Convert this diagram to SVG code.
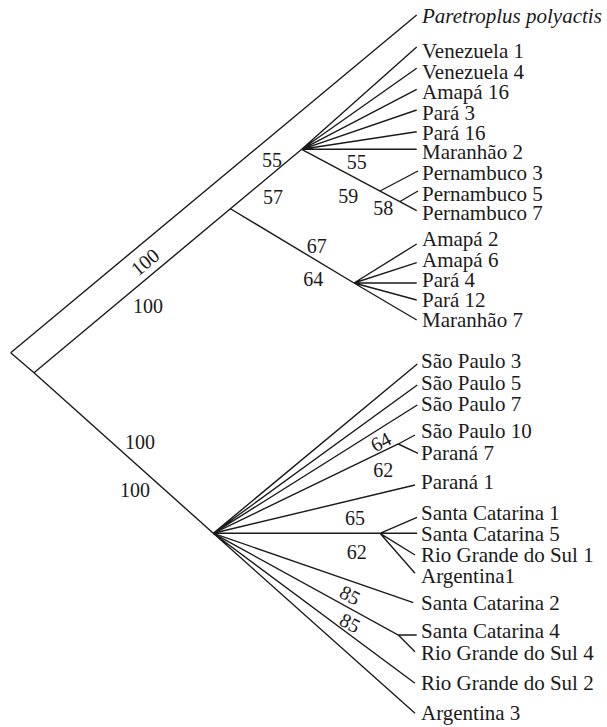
<svg xmlns="http://www.w3.org/2000/svg" width="607" height="727" viewBox="0 0 607 727">
<style>
.e{stroke:#1a1a1a;stroke-width:1.4;fill:none;stroke-linecap:butt}
.t{font-family:"Liberation Serif","Times New Roman",serif;font-size:21px;fill:#1a1a1a}
.i{font-style:italic}
.n{font-family:"Liberation Serif","Times New Roman",serif;font-size:20px;fill:#1a1a1a;text-anchor:middle}
</style>
<rect width="607" height="727" fill="#fff"/>
<g id="connectors" class="e">
<path d="M10.7,352.7 L416.7,15"/>
<path d="M10.7,352.7 L34,372.7"/>
<path d="M34,372.7 L301.7,149.3"/>
<path d="M34,372.7 L213.3,533.3"/>
<path d="M301.7,149.3 L416.7,47 M301.7,149.3 L416.7,68.3 M301.7,149.3 L416.7,89.3 M301.7,149.3 L416.7,110 M301.7,149.3 L416.7,131.7 M301.7,149.3 L416.7,149.3"/>
<path d="M301.7,149.3 L416.7,210.7 M380,191 L418,171 M400,201.5 L418,191"/>
<path d="M230,208.5 L354,283"/>
<path d="M354,283 L416.7,244 M354,283 L416.7,262.7 M354,283 L416.7,283 M354,283 L416.7,300 M354,283 L416.7,320"/>
<path d="M213.3,533.3 L417.3,364 M213.3,533.3 L417.3,385 M213.3,533.3 L417.3,405"/>
<path d="M213.3,533.3 L398.3,444 L415,435 M398.3,444 L418,453.3"/>
<path d="M213.3,533.3 L415,485"/>
<path d="M213.3,533.3 L417,533.3 M380,533.3 L417,517.3 M380,533.3 L415,555 M380,533.3 L415,573.3"/>
<path d="M213.3,533.3 L413.3,602.7"/>
<path d="M213.3,533.3 L398.3,635 L416.7,635 M398.3,635 L415,651.7"/>
<path d="M213.3,533.3 L415,683.3 M213.3,533.3 L415,713.3"/>
</g>
<g id="support" class="n" font-family="Liberation Serif, Times New Roman, serif">
<text transform="translate(145,262) rotate(-39.7)" y="7">100</text>
<text x="148" y="313">100</text>
<text x="272" y="167">55</text>
<text x="273" y="204">57</text>
<text x="356.7" y="168.7">55</text>
<text x="348.3" y="203">59</text>
<text x="383.3" y="215">58</text>
<text x="316.7" y="253">67</text>
<text x="313.3" y="286.3">64</text>
<text x="140" y="448.7">100</text>
<text x="135" y="497">100</text>
<text transform="translate(380.7,441.7) rotate(-28)" y="7">64</text>
<text x="383.3" y="477">62</text>
<text x="355" y="525.3">65</text>
<text x="356.7" y="558.7">62</text>
<text transform="translate(350,595) rotate(28)" y="7">85</text>
<text transform="translate(350,622.7) rotate(28)" y="7">85</text>
</g>
<g id="outgroup" class="t"><text class="i" x="422" y="22.7">Paretroplus polyactis</text></g>
<g id="venezuela1" class="t"><text x="422" y="57.7">Venezuela 1</text></g>
<g id="venezuela4" class="t"><text x="422" y="78.7">Venezuela 4</text></g>
<g id="amapa16" class="t"><text x="422" y="99.3">Amapá 16</text></g>
<g id="para3" class="t"><text x="422" y="120">Pará 3</text></g>
<g id="para16" class="t"><text x="422" y="140">Pará 16</text></g>
<g id="maranhao2" class="t"><text x="422" y="158.5">Maranhão 2</text></g>
<g id="pernambuco3" class="t"><text x="422" y="180">Pernambuco 3</text></g>
<g id="pernambuco5" class="t"><text x="422" y="201">Pernambuco 5</text></g>
<g id="pernambuco7" class="t"><text x="422" y="220">Pernambuco 7</text></g>
<g id="amapa2" class="t"><text x="422" y="246">Amapá 2</text></g>
<g id="amapa6" class="t"><text x="422" y="266.7">Amapá 6</text></g>
<g id="para4" class="t"><text x="422" y="286.7">Pará 4</text></g>
<g id="para12" class="t"><text x="422" y="307.3">Pará 12</text></g>
<g id="maranhao7" class="t"><text x="422" y="327.3">Maranhão 7</text></g>
<g id="saopaulo3" class="t"><text x="421" y="368.3">São Paulo 3</text></g>
<g id="saopaulo5" class="t"><text x="421" y="390">São Paulo 5</text></g>
<g id="saopaulo7" class="t"><text x="421" y="411">São Paulo 7</text></g>
<g id="saopaulo10" class="t"><text x="421" y="438.3">São Paulo 10</text></g>
<g id="parana7" class="t"><text x="421" y="460">Paraná 7</text></g>
<g id="parana1" class="t"><text x="421" y="489.3">Paraná 1</text></g>
<g id="santacatarina1" class="t"><text x="421" y="520">Santa Catarina 1</text></g>
<g id="santacatarina5" class="t"><text x="421" y="540.7">Santa Catarina 5</text></g>
<g id="riograndedosul1" class="t"><text x="421" y="561.7">Rio Grande do Sul 1</text></g>
<g id="argentina1" class="t"><text x="421" y="583.3">Argentina1</text></g>
<g id="santacatarina2" class="t"><text x="421" y="610">Santa Catarina 2</text></g>
<g id="santacatarina4" class="t"><text x="421" y="638.3">Santa Catarina 4</text></g>
<g id="riograndedosul4" class="t"><text x="421" y="660">Rio Grande do Sul 4</text></g>
<g id="riograndedosul2" class="t"><text x="421" y="690">Rio Grande do Sul 2</text></g>
<g id="argentina3" class="t"><text x="421" y="720">Argentina 3</text></g>
</svg>
